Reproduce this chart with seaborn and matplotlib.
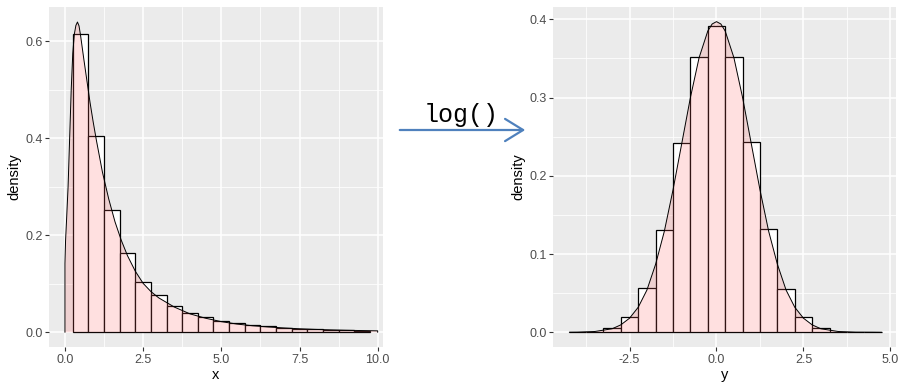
import numpy as np
import pandas as pd
import matplotlib
matplotlib.use('Agg')
import matplotlib.pyplot as plt
from matplotlib.ticker import MultipleLocator
import seaborn as sns

# left panel: x (skewed), bins of width 0.5 centred on multiples of 0.5
x_bin_centers = [0.5, 1.0, 1.5, 2.0, 2.5, 3.0, 3.5, 4.0, 4.5, 5.0,
                 5.5, 6.0, 6.5, 7.0, 7.5, 8.0, 8.5, 9.0, 9.5]
x_bin_density = [0.616, 0.405, 0.252, 0.163, 0.104, 0.076, 0.054, 0.039, 0.031, 0.024,
                 0.019, 0.015, 0.012, 0.0095, 0.0075, 0.006, 0.005, 0.004, 0.0033]
x_curve = [0.0, 0.02, 0.05, 0.1, 0.15, 0.2, 0.25, 0.3, 0.35, 0.4, 0.45, 0.5, 0.6, 0.7,
           0.8, 0.9, 1.0, 1.2, 1.4, 1.6, 1.8, 2.0, 2.25, 2.5, 2.75, 3.0, 3.5, 4.0,
           4.5, 5.0, 5.5, 6.0, 6.5, 7.0, 7.5, 8.0, 8.5, 9.0, 9.5, 10.0]
x_curve_density = [0.142, 0.19, 0.23, 0.30, 0.40, 0.50, 0.575, 0.615, 0.633, 0.64, 0.632,
                   0.612, 0.565, 0.52, 0.475, 0.435, 0.398, 0.33, 0.275, 0.228, 0.19,
                   0.158, 0.126, 0.101, 0.084, 0.071, 0.052, 0.038, 0.029, 0.022, 0.017,
                   0.0135, 0.011, 0.009, 0.0073, 0.006, 0.005, 0.0042, 0.0036, 0.003]

# right panel: y = log(x)
y_bin_centers = [-4.0, -3.5, -3.0, -2.5, -2.0, -1.5, -1.0, -0.5, 0.0,
                 0.5, 1.0, 1.5, 2.0, 2.5, 3.0, 3.5, 4.0, 4.5]
y_bin_density = [0.0001, 0.0008, 0.005, 0.019, 0.056, 0.131, 0.2415, 0.352, 0.391,
                 0.352, 0.243, 0.132, 0.055, 0.019, 0.005, 0.001, 0.0002, 0.0001]
y_curve = [-4.23, -4.0, -3.5, -3.0, -2.75, -2.5, -2.25, -2.0, -1.75, -1.5, -1.25, -1.0,
           -0.75, -0.5, -0.25, -0.125, 0.0, 0.125, 0.25, 0.5, 0.75, 1.0, 1.25, 1.5,
           1.75, 2.0, 2.25, 2.5, 2.75, 3.0, 3.5, 4.0, 4.5, 4.75]
y_curve_density = [0.0001, 0.0002, 0.001, 0.0045, 0.0095, 0.018, 0.032, 0.054, 0.087,
                   0.129, 0.182, 0.241, 0.300, 0.351, 0.385, 0.394, 0.397, 0.394, 0.385,
                   0.351, 0.300, 0.241, 0.182, 0.129, 0.087, 0.054, 0.032, 0.018,
                   0.0095, 0.0045, 0.001, 0.0002, 0.0001, 0.0]

sns.set_theme(style='darkgrid', rc={
    'axes.facecolor': '#EBEBEB',
    'grid.color': 'white',
    'xtick.bottom': True, 'ytick.left': True,
    'xtick.color': '#333333', 'ytick.color': '#333333',
    'xtick.labelcolor': '#4D4D4D', 'ytick.labelcolor': '#4D4D4D',
    'xtick.major.size': 2.7, 'ytick.major.size': 2.7,
    'xtick.major.width': 0.8, 'ytick.major.width': 0.8,
    'xtick.major.pad': 2, 'ytick.major.pad': 2,
})
plt.rcParams['font.family'] = ['Liberation Sans', 'DejaVu Sans']

W, H = 909, 392
fig = plt.figure(figsize=(W / 100, H / 100), dpi=100)
ax1 = fig.add_axes([49 / W, (H - 347) / H, (383 - 49) / W, (347 - 7) / H])
ax2 = fig.add_axes([553 / W, (H - 347) / H, (896 - 553) / W, (347 - 7) / H])


def panel(ax, centers, heights, binrange, cx, cy, xlim, ylim, xmaj, ymaj, xlabel):
    sns.histplot(x=centers, weights=heights, binwidth=0.5, binrange=binrange,
                 stat='count', color='white', alpha=1, edgecolor='black',
                 linewidth=0.9, ax=ax, zorder=2)
    px = [cx[0]] + list(cx) + [cx[-1]]
    py = [0] + list(cy) + [0]
    ax.fill(px, py, facecolor='#FF6666', alpha=0.2, edgecolor='none', zorder=3)
    ax.plot(px, py, color='black', lw=0.7, zorder=4)
    ax.set_xlim(*xlim)
    ax.set_ylim(*ylim)
    ax.xaxis.set_major_locator(MultipleLocator(xmaj))
    ax.xaxis.set_minor_locator(MultipleLocator(xmaj / 2))
    ax.yaxis.set_major_locator(MultipleLocator(ymaj))
    ax.yaxis.set_minor_locator(MultipleLocator(ymaj / 2))
    ax.grid(which='major', color='white', lw=1.1)
    ax.grid(which='minor', color='white', lw=0.55)
    ax.tick_params(which='minor', length=0)
    ax.tick_params(labelsize=9)
    for s in ax.spines.values():
        s.set_visible(False)
    ax.set_xlabel(xlabel, fontsize=10.5, color='black', labelpad=2)
    ax.set_ylabel('density', fontsize=10.5, color='black', labelpad=3)


panel(ax1, x_bin_centers, x_bin_density, (0.25, 9.75), x_curve, x_curve_density,
      (-0.51, 10.17), (-0.0303, 0.671), 2.5, 0.2, 'x')
panel(ax2, y_bin_centers, y_bin_density, (-4.25, 4.75), y_curve, y_curve_density,
      (-4.70, 5.16), (-0.0188, 0.4157), 2.5, 0.1, 'y')
for ax in (ax1, ax2):
    ax.yaxis.set_major_formatter(plt.FuncFormatter(lambda v, p: f'{v:.1f}'))
    ax.xaxis.set_major_formatter(plt.FuncFormatter(lambda v, p: f'{v:.1f}'))

# arrow + label between the panels
fig.patches.append(matplotlib.patches.FancyArrowPatch(
    (397 / W, 1 - 130 / H), (528 / W, 1 - 130 / H), transform=fig.transFigure,
    arrowstyle='->,head_length=1.3,head_width=0.8', mutation_scale=10,
    color='#4F81BD', lw=1.6))
fig.text(461 / W, 1 - 122 / H, 'log()', family=['Liberation Mono', 'DejaVu Sans Mono'],
         fontsize=18, ha='center', va='baseline', color='black')

fig.savefig('out.png', dpi=100)
